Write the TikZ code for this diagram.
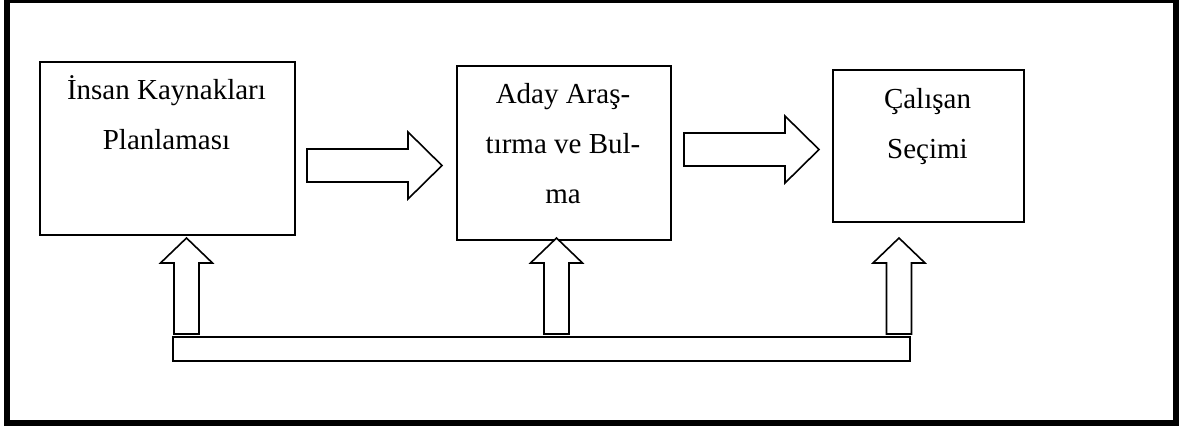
\documentclass[tikz,border=0pt]{standalone}
\usepackage{fontspec}
\setmainfont{Liberation Serif}
\usetikzlibrary{positioning}

\tikzset{
  stage/.style={draw, line width=0.8pt, rectangle, anchor=north west, inner sep=0pt},
  stagetext/.style={anchor=base, align=center, inner sep=0pt, font=\fontsize{14.5}{25}\selectfont},
  blockarrow/.style={draw, line width=0.8pt, fill=white, line join=miter},
}

\begin{document}
\begin{tikzpicture}[x=0.5pt, y=-0.5pt]
            \useasboundingbox (0,0) rectangle (1189,430);
            \draw[line width=3pt] (7,0) rectangle (1176,423);
            % the three stages
            \node[stage, minimum width=127.5pt, minimum height=86.5pt] (plan) at (39,61) {};
            \node[stage, minimum width=107pt, minimum height=87pt] (aday) at (456,65) {};
            \node[stage, minimum width=95.5pt, minimum height=76pt] (secim) at (832,69) {};
            % text sits on the baseline of its last line
            \node[stagetext] (plantext) at (166.5,149) {İnsan Kaynakları\\Planlaması};
            \node[stagetext] (adaytext) at (563,203) {Aday Araş-\\tırma ve Bul-\\ma};
            \node[stagetext] (secimtext) at (927.5,158) {Çalışan\\Seçimi};
            % arrows between stages
            \draw[blockarrow] (307,149) -- (408,149) -- (408,132) -- (442,165.5)
                -- (408,199) -- (408,182) -- (307,182) -- cycle;
            \draw[blockarrow] (684,133) -- (785,133) -- (785,116) -- (819,149.5)
                -- (785,183) -- (785,166) -- (684,166) -- cycle;
            % feedback bar and up arrows
            \draw[blockarrow] (173,337) rectangle (910,361);
            \foreach \ux in {186.5, 556.5, 899}
                \draw[blockarrow] (\ux-12.5,334) -- (\ux-12.5,263) -- (\ux-26,263)
                    -- (\ux,238) -- (\ux+26,263) -- (\ux+12.5,263) -- (\ux+12.5,334) -- cycle;
\end{tikzpicture}
\end{document}
